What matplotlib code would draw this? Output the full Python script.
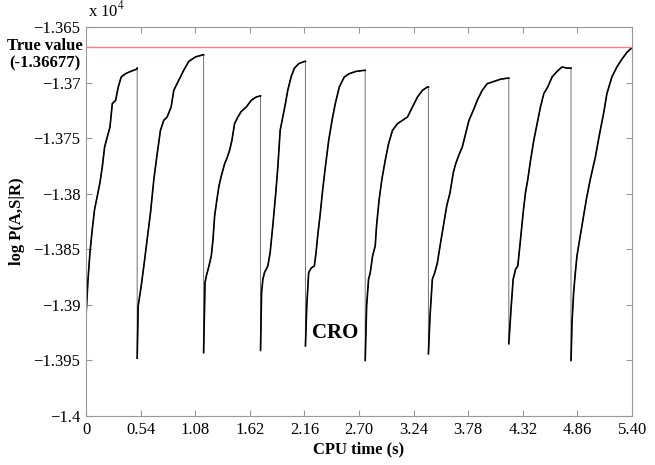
import numpy as np
import matplotlib
matplotlib.use('Agg')
import matplotlib.pyplot as plt

# Times-like look (MATLAB export)
plt.rcParams['font.family'] = ['Liberation Serif', 'DejaVu Serif']
plt.rcParams['mathtext.fontset'] = 'stix'

# log P(A,S|R) in units of 1e4, one list per restart of the sampler
seg1_t = [0.0, 0.020, 0.039, 0.062, 0.085, 0.112, 0.138, 0.161, 0.184, 0.210, 0.237, 0.260, 0.293, 0.319, 0.348, 0.391, 0.441, 0.500, 0.506]
seg1_v = [-1.3910, -1.3877, -1.3853, -1.3832, -1.3814, -1.3802, -1.3790, -1.3776, -1.3758, -1.3749, -1.3740, -1.3719, -1.3716, -1.3704, -1.3695, -1.3692, -1.3690, -1.3688, -1.3687]

seg2_t = [0.506, 0.516, 0.546, 0.572, 0.605, 0.638, 0.671, 0.704, 0.736, 0.769, 0.802, 0.842, 0.868, 0.917, 0.966, 1.016, 1.082, 1.157, 1.163]
seg2_v = [-1.3948, -1.3901, -1.3883, -1.3865, -1.3841, -1.3817, -1.3787, -1.3764, -1.3743, -1.3734, -1.3731, -1.3722, -1.3707, -1.3698, -1.3689, -1.3681, -1.3677, -1.3675, -1.3675]

seg3_t = [1.163, 1.177, 1.190, 1.216, 1.239, 1.256, 1.272, 1.295, 1.315, 1.338, 1.371, 1.394, 1.420, 1.443, 1.469, 1.502, 1.535, 1.585, 1.634, 1.683, 1.726]
seg3_v = [-1.3943, -1.3880, -1.3874, -1.3865, -1.3856, -1.3841, -1.3820, -1.3805, -1.3793, -1.3784, -1.3773, -1.3768, -1.3761, -1.3752, -1.3737, -1.3731, -1.3726, -1.3722, -1.3716, -1.3713, -1.3712]

seg4_t = [1.726, 1.736, 1.749, 1.765, 1.798, 1.821, 1.847, 1.874, 1.897, 1.920, 1.946, 1.972, 1.995, 2.028, 2.061, 2.104, 2.160, 2.170]
seg4_v = [-1.3941, -1.3889, -1.3877, -1.3871, -1.3865, -1.3853, -1.3829, -1.3802, -1.3776, -1.3743, -1.3731, -1.3719, -1.3707, -1.3695, -1.3687, -1.3683, -1.3681, -1.3681]

seg5_t = [2.170, 2.183, 2.202, 2.226, 2.258, 2.275, 2.291, 2.314, 2.341, 2.367, 2.400, 2.433, 2.465, 2.505, 2.554, 2.604, 2.669, 2.751, 2.761]
seg5_v = [-1.3937, -1.3901, -1.3871, -1.3867, -1.3865, -1.3853, -1.3838, -1.3820, -1.3796, -1.3776, -1.3752, -1.3734, -1.3719, -1.3704, -1.3695, -1.3692, -1.3690, -1.3689, -1.3689]

seg6_t = [2.761, 2.775, 2.794, 2.811, 2.834, 2.860, 2.873, 2.899, 2.926, 2.959, 2.992, 3.031, 3.080, 3.130, 3.179, 3.228, 3.278, 3.327, 3.376, 3.386]
seg6_v = [-1.3950, -1.3901, -1.3877, -1.3871, -1.3856, -1.3847, -1.3829, -1.3805, -1.3787, -1.3770, -1.3755, -1.3743, -1.3737, -1.3734, -1.3731, -1.3722, -1.3713, -1.3707, -1.3704, -1.3704]

seg7_t = [3.386, 3.402, 3.425, 3.449, 3.475, 3.501, 3.534, 3.567, 3.600, 3.632, 3.656, 3.688, 3.721, 3.754, 3.787, 3.830, 3.869, 3.918, 3.968, 4.034, 4.100, 4.172, 4.181]
seg7_v = [-1.3944, -1.3910, -1.3877, -1.3871, -1.3862, -1.3847, -1.3829, -1.3811, -1.3799, -1.3781, -1.3773, -1.3765, -1.3758, -1.3746, -1.3734, -1.3725, -1.3716, -1.3707, -1.3701, -1.3699, -1.3697, -1.3696, -1.3696]

seg8_t = [4.181, 4.205, 4.224, 4.248, 4.270, 4.297, 4.323, 4.346, 4.369, 4.396, 4.428, 4.461, 4.494, 4.527, 4.566, 4.609, 4.658, 4.707, 4.757, 4.790, 4.796]
seg8_v = [-1.3935, -1.3901, -1.3877, -1.3868, -1.3865, -1.3841, -1.3817, -1.3799, -1.3787, -1.3770, -1.3752, -1.3737, -1.3722, -1.3710, -1.3704, -1.3695, -1.3690, -1.3686, -1.3687, -1.3687, -1.3687]

seg9_t = [4.796, 4.806, 4.822, 4.839, 4.855, 4.882, 4.915, 4.948, 4.987, 5.037, 5.079, 5.118, 5.151, 5.200, 5.250, 5.299, 5.348, 5.381, 5.400]
seg9_v = [-1.3950, -1.3916, -1.3889, -1.3871, -1.3856, -1.3841, -1.3823, -1.3805, -1.3787, -1.3767, -1.3746, -1.3728, -1.3710, -1.3695, -1.3686, -1.3679, -1.3673, -1.3670, -1.3669]

true_value = -1.36677

x_ticks = [0, 0.54, 1.08, 1.62, 2.16, 2.70, 3.24, 3.78, 4.32, 4.86, 5.40]
x_labels = ['0', '0.54', '1.08', '1.62', '2.16', '2.70', '3.24', '3.78', '4.32', '4.86', '5.40']
y_ticks = [-1.4, -1.395, -1.39, -1.385, -1.38, -1.375, -1.37, -1.365]
y_labels = ['\u22121.4', '\u22121.395', '\u22121.39', '\u22121.385', '\u22121.38', '\u22121.375', '\u22121.37', '\u22121.365']

seg_t = [seg1_t, seg2_t, seg3_t, seg4_t, seg5_t, seg6_t, seg7_t, seg8_t, seg9_t]
seg_v = [seg1_v, seg2_v, seg3_v, seg4_v, seg5_v, seg6_v, seg7_v, seg8_v, seg9_v]

fig = plt.figure(figsize=(6.55, 4.65), dpi=100)
ax = fig.add_axes([0.1313, 0.1054, 0.8337, 0.8366])

# whole trace incl. the restart drops (thin, greyish like the original)
all_t = np.concatenate(seg_t)
all_v = np.concatenate(seg_v)
ax.plot(all_t, all_v, color='#707070', linewidth=0.7)

# rising parts are dense/noisy in the original -> thicker black
for t, v in zip(seg_t, seg_v):
    ax.plot(t, v, color='black', linewidth=1.2)

ax.axhline(true_value, color='#ff8080', linewidth=1.0)

ax.set_xlim(0, 5.40)
ax.set_ylim(-1.4, -1.365)
ax.set_xticks(x_ticks)
ax.set_xticklabels(x_labels)
ax.set_yticks(y_ticks)
ax.set_yticklabels(y_labels)

# MATLAB style box with inward ticks on all sides
for sp in ax.spines.values():
    sp.set_color('#999999')
    sp.set_linewidth(0.8)
ax.tick_params(direction='in', top=True, right=True, length=4, color='#999999',
               labelsize=12, pad=4)

ax.set_xlabel('CPU time (s)', fontsize=12, fontweight='bold', labelpad=3)
ax.set_ylabel('log P(A,S|R)', fontsize=12, fontweight='bold', labelpad=6)

fig.text(88/655, 1-20/465, 'x 10$^{4}$', fontsize=12, ha='left', va='bottom')
fig.text(83/655, 1-38/465, 'True value\n(-1.36677)', fontsize=12, fontweight='bold',
         ha='right', va='top', multialignment='center', linespacing=1.1)
ax.text(2.46, -1.3925, 'CRO', fontsize=15, fontweight='bold', ha='center', va='center')

fig.savefig('out.png', dpi=100)
